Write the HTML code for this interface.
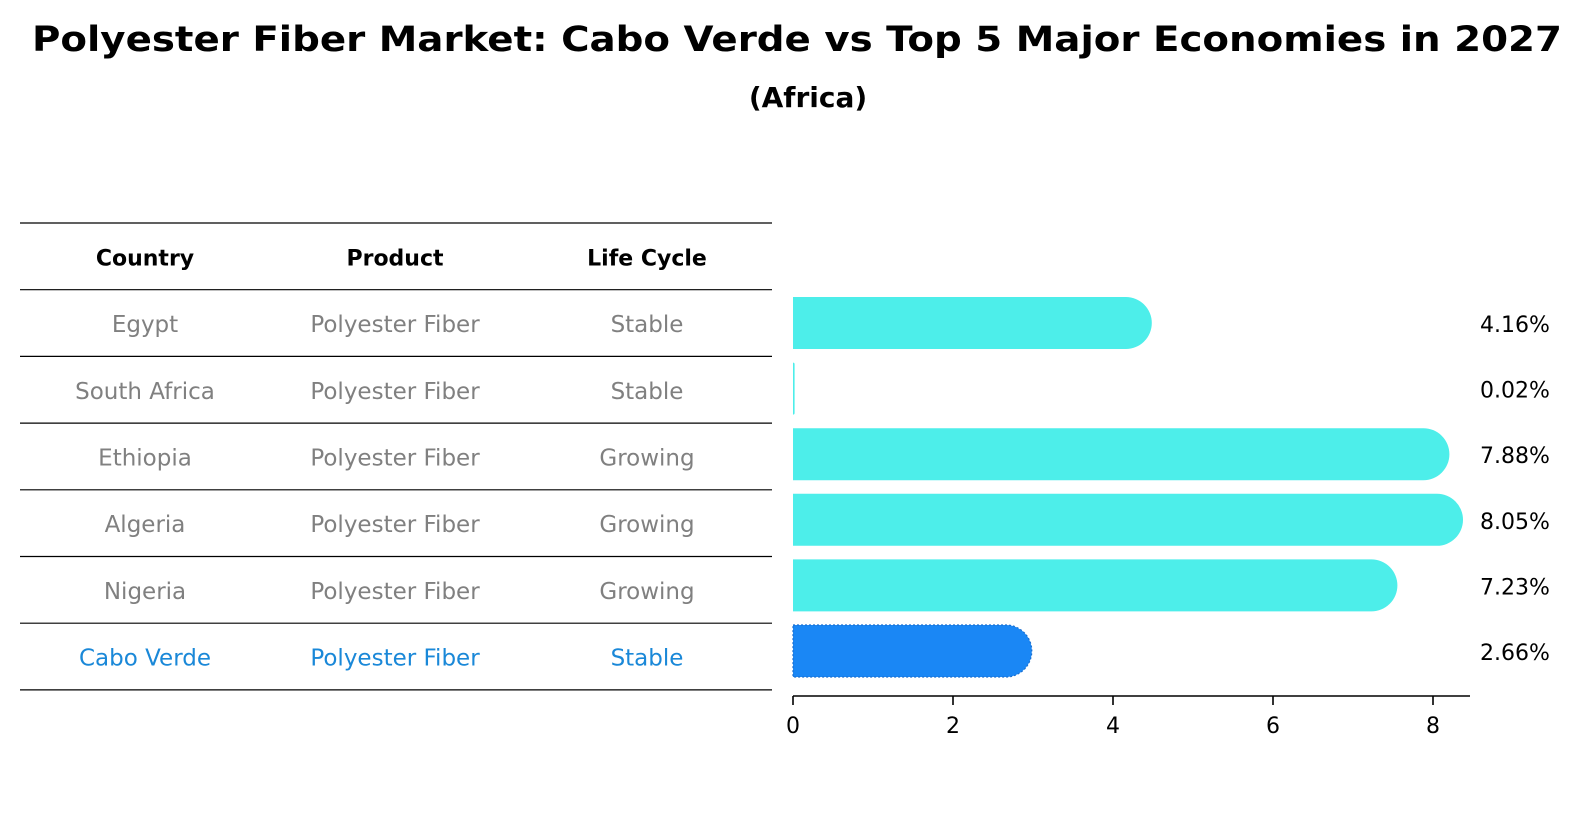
<!DOCTYPE html>
<html><head><meta charset="utf-8"><style>
html,body{margin:0;padding:0;background:#fff;}
svg{display:block;font-family:"DejaVu Sans","Liberation Sans",sans-serif;}
</style></head><body>
<svg id="chart" width="1594" height="823" viewBox="0 0 1594 823" xmlns="http://www.w3.org/2000/svg">
<text x="797" y="51" text-anchor="middle" font-size="35" font-weight="bold" textLength="1530" lengthAdjust="spacingAndGlyphs">Polyester Fiber Market: Cabo Verde vs Top 5 Major Economies in 2027</text>
<text x="808" y="107" text-anchor="middle" font-size="28" font-weight="bold">(Africa)</text>
<g id="table"></g>
<g id="bars"></g>
</svg>
<script>
const countries = ["Egypt","South Africa","Ethiopia","Algeria","Nigeria","Cabo Verde"];
const products = ["Polyester Fiber","Polyester Fiber","Polyester Fiber","Polyester Fiber","Polyester Fiber","Polyester Fiber"];
const lifeCycles = ["Stable","Stable","Growing","Growing","Growing","Stable"];
const values = [4.16,0.02,7.88,8.05,7.23,2.66];
const valueLabels = ["4.16%","0.02%","7.88%","8.05%","7.23%","2.66%"];
const xTicks = [0,2,4,6,8];
const highlight = "Cabo Verde";

const NS="http://www.w3.org/2000/svg";
function mk(tag,attrs,parent){const e=document.createElementNS(NS,tag);for(const k in attrs)e.setAttribute(k,attrs[k]);parent.appendChild(e);return e;}

// table
const table=document.getElementById('table');
const lineY0=223, rowH=66.7, colX=[145,395,647];
for(let i=0;i<=countries.length+1;i++){
  const ln=mk('line',{x1:20,x2:772,y1:lineY0+i*rowH,y2:lineY0+i*rowH,stroke:'#000','stroke-width':1.2},table);
  
  
}
const headers=["Country","Product","Life Cycle"];
headers.forEach((h,j)=>{
  const t=mk('text',{x:colX[j],y:lineY0+rowH/2+9,'text-anchor':'middle','font-size':22,'font-weight':'bold',fill:'#000'},table);
  t.textContent=h;
  
  
});
countries.forEach((c,i)=>{
  const hl=c===highlight;
  const col=hl?'#1a88d8':'#808080';
  [c,products[i],lifeCycles[i]].forEach((v,j)=>{
    const t=mk('text',{x:colX[j],y:lineY0+(i+1)*rowH+rowH/2+9,'text-anchor':'middle','font-size':23,fill:col},table);
    t.textContent=v;
    
    
  });
});

// bars
const bars=document.getElementById('bars');
const x0=793, sx=80, barTop0=297, barPitch=65.6, barH=52, axisY=696;
const xs=v=>x0+v*sx;
values.forEach((v,i)=>{
  const y=barTop0+i*barPitch, w=v*sx, r=Math.min(26,w);
  const x=x0, xe=x0+w+r- (r<26?r:0);
  const rr=Math.min(r,barH/2);
  const d=`M${x},${y} L${xe-rr},${y} A${rr},${rr} 0 0 1 ${xe},${y+rr} L${xe},${y+barH-rr} A${rr},${rr} 0 0 1 ${xe-rr},${y+barH} L${x},${y+barH} Z`;
  const hl=countries[i]===highlight;
  const p=mk('path',{d:d,fill:hl?'#1a87f5':'#4deeea'},bars);
  if(hl){p.setAttribute('stroke','#1a6fd0');p.setAttribute('stroke-width','1.2');p.setAttribute('stroke-dasharray','2,2');}
  
  
  const t=mk('text',{x:1480,y:y+barH/2+9,'font-size':22,fill:'#000'},bars);
  t.textContent=valueLabels[i];
  
  
});
const ax=mk('line',{x1:x0,x2:1470,y1:axisY,y2:axisY,stroke:'#000','stroke-width':1.6},bars);


xTicks.forEach(v=>{
  const tk=mk('line',{x1:xs(v),x2:xs(v),y1:axisY,y2:axisY+9,stroke:'#000','stroke-width':1.6},bars);
  
  
  const t=mk('text',{x:xs(v),y:axisY+37,'text-anchor':'middle','font-size':22,fill:'#000'},bars);
  t.textContent=String(v);
  
  
});
</script>
</body></html>
